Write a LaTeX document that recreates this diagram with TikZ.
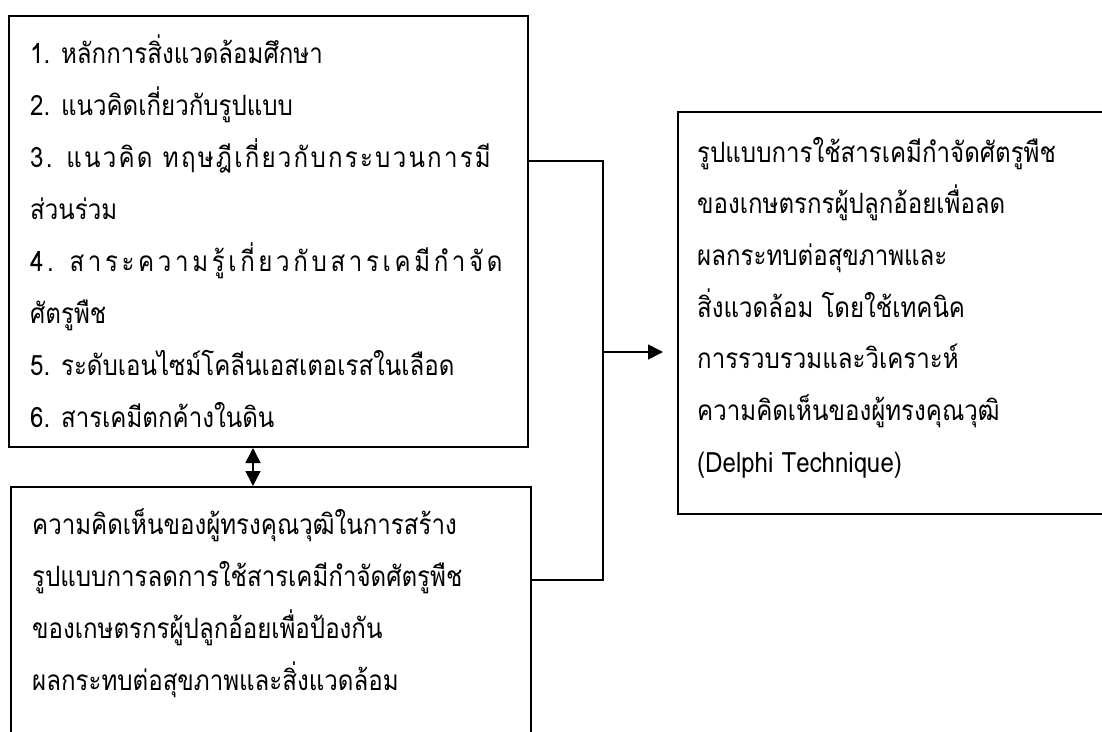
\documentclass[tikz,border=0pt]{standalone}
\usepackage{fontspec}
\newfontfamily\thaifont[Script=Thai,FakeStretch=0.86]{Loma}
\usetikzlibrary{arrows.meta}

\begin{document}
\begin{tikzpicture}[
    x=1pt, y=-1pt,
    box/.style={draw, line width=2pt, anchor=north west, inner sep=0, fill=white},
    txt/.style={anchor=base west, inner sep=0, font=\thaifont\fontsize{28}{32}\selectfont},
    link/.style={line width=1.5pt},
    arr/.style={link, -{Triangle[length=15pt,width=15pt]}},
    dbl/.style={link, {Triangle[length=15pt,width=15pt]}-{Triangle[length=15pt,width=15pt]}},
 ]
    \useasboundingbox[fill=white] (0,0) rectangle (1102,731);

    \node[box, minimum width=519, minimum height=431] (B1) at (8,15) {};
    \node[box, minimum width=520, minimum height=270] (B2) at (10,486) {};
    \node[box, minimum width=440, minimum height=402] (B3) at (677,111) {};

    \foreach \t [count=\i from 0] in {
        1. หลักการสิ่งแวดล้อมศึกษา,
        2. แนวคิดเกี่ยวกับรูปแบบ,
        {\addfontfeature{LetterSpace=8}3. แนวคิด ทฤษฎีเกี่ยวกับกระบวนการมี},
        ส่วนร่วม,
        {\addfontfeature{LetterSpace=13}4. สาระความรู้เกี่ยวกับสารเคมีกำจัด},
        ศัตรูพืช,
        5. ระดับเอนไซม์โคลีนเอสเตอเรสในเลือด,
        6. สารเคมีตกค้างในดิน}
        \node[txt] (L1-\i) at (30,{63+52*\i}) {\t};

    \foreach \t [count=\i from 0] in {
        ความคิดเห็นของผู้ทรงคุณวุฒิในการสร้าง,
        รูปแบบการลดการใช้สารเคมีกำจัดศัตรูพืช,
        ของเกษตรกรผู้ปลูกอ้อยเพื่อป้องกัน,
        ผลกระทบต่อสุขภาพและสิ่งแวดล้อม}
        \node[txt] (L2-\i) at (32,{534+52*\i}) {\t};

    \foreach \t [count=\i from 0] in {
        รูปแบบการใช้สารเคมีกำจัดศัตรูพืช,
        ของเกษตรกรผู้ปลูกอ้อยเพื่อลด,
        ผลกระทบต่อสุขภาพและ,
        สิ่งแวดล้อม โดยใช้เทคนิค,
        การรวบรวมและวิเคราะห์,
        ความคิดเห็นของผู้ทรงคุณวุฒิ,
        {(Delphi Technique)}}
        \node[txt] (L3-\i) at (697,{162+51.7*\i}) {\t};

    % joins
    \coordinate (J1) at (603,161);
    \coordinate (J2) at (603,580);
    \coordinate (J3) at (603,352);
    \coordinate (D) at (253,0);
    \draw[link] (B1.east |- J1) -- (J1) -- (J2) -- (B2.east |- J2);
    \draw[arr, shorten >=14pt] (J3) -- (J3 -| B3.west);
    \draw[dbl] (B1.south -| D) -- (B2.north -| D);
\end{tikzpicture}
\end{document}
